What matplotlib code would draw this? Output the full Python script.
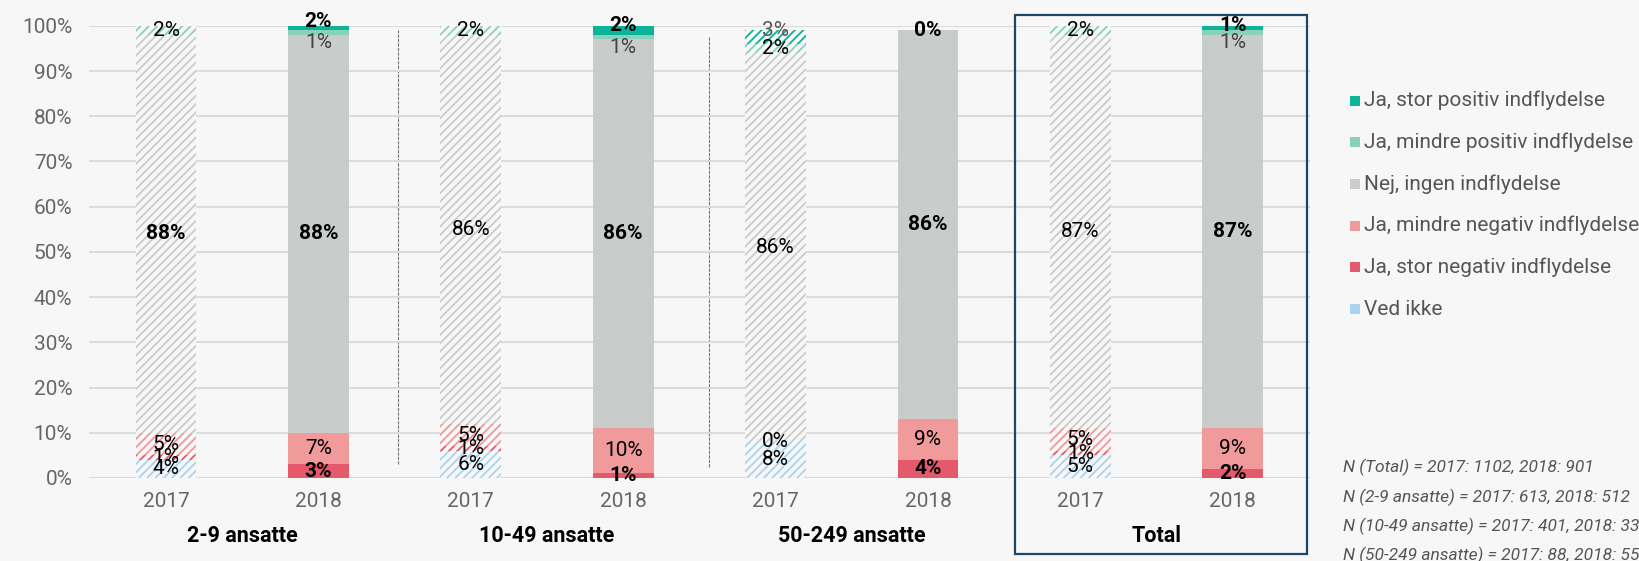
import numpy as np
import matplotlib.pyplot as plt
from matplotlib.patches import Rectangle
from matplotlib.transforms import blended_transform_factory

plt.rcParams['font.family'] = ['Roboto', 'DejaVu Sans']
plt.rcParams['hatch.linewidth'] = 1.3

# Data (bars: 2017/2018 for each group), nan = no segment / no label
groups = ["2-9 ansatte", "10-49 ansatte", "50-249 ansatte", "Total"]
years = ["2017", "2018"] * 4
series = ["Ved ikke", "Ja, stor negativ indflydelse", "Ja, mindre negativ indflydelse",
          "Nej, ingen indflydelse", "Ja, mindre positiv indflydelse", "Ja, stor positiv indflydelse"]
ved_ikke = [4, np.nan, 6, np.nan, 8, np.nan, 5, np.nan]
stor_neg = [1, 3, 1, 1, np.nan, 4, 1, 2]
mindre_neg = [5, 7, 5, 10, 0, 9, 5, 9]
nej = [88, 88, 86, 86, 86, 86, 87, 87]
mindre_pos = [2, 1, 2, 1, 2, np.nan, 2, 1]
stor_pos = [np.nan, 2, np.nan, 2, 3, 0, np.nan, 1]
n_notes = ["N (Total) = 2017: 1102, 2018: 901",
           "N (2-9 ansatte) = 2017: 613, 2018: 512",
           "N (10-49 ansatte) = 2017: 401, 2018: 33",
           "N (50-249 ansatte) = 2017: 88, 2018: 55"]

colors = ["#a9d3ee", "#e5596d", "#f09a9c", "#c8ccca", "#88d1bd", "#0ab39a"]
bg = "#f7f7f7"

fig = plt.figure(figsize=(16.4, 5.61), dpi=100, facecolor=bg)
ax = fig.add_axes([0.0543, 0.148, 0.7445, 0.806], facecolor=bg)

x = np.arange(len(years))
width = 0.40
bottom = np.zeros(len(years))
data = [ved_ikke, stor_neg, mindre_neg, nej, mindre_pos, stor_pos]
for k, vals in enumerate(data):
    vals = np.array(vals, dtype=float)
    h = np.nan_to_num(vals)
    for i in x:
        if i % 2 == 0:
            ax.bar(i, h[i], width, bottom=bottom[i], facecolor=bg, edgecolor=colors[k],
                   hatch="////", linewidth=0, zorder=2)
        else:
            ax.bar(i, h[i], width, bottom=bottom[i], color=colors[k], linewidth=0, zorder=2)
        if np.isnan(vals[i]):
            continue
        yc, va = bottom[i] + h[i] / 2, "center"
        if i % 2 == 0:
            col, fw = ("#555555" if k == 5 else "black"), "normal"
            if k == 3 and i == 0:
                fw = "bold"
            if k == 5:
                yc = bottom[i] + h[i]
        else:
            col = "#444444" if k == 4 else "black"
            fw = "normal" if k in (2, 4) else "bold"
            if k == 5:
                yc = bottom[i] + h[i]
            elif k == 4:
                yc, va = bottom[i] + 0.3, "top"
        ax.text(i, yc, f"{vals[i]:.0f}%", ha="center", va=va, fontsize=15,
                color=col, fontweight=fw, zorder=3)
    bottom += h

ax.set_xlim(-0.505, 7.507)
ax.set_ylim(0, 100)
ax.set_yticks(np.arange(0, 101, 10))
ax.set_yticklabels([f"{v}%" for v in range(0, 101, 10)])
ax.set_xticks(x)
ax.set_xticklabels(years)
ax.tick_params(length=0, labelsize=15, labelcolor="#666666")
ax.tick_params(axis="x", pad=10)
ax.tick_params(axis="y", pad=12)
ax.grid(axis="y", color="#dcdcdc", linewidth=1.5, zorder=0)
for s in ax.spines.values():
    s.set_visible(False)

# group dividers
ax.vlines([1.52], 3, 99, color="#777777", linewidth=0.8, linestyle=(0, (3, 1)), zorder=1)
ax.vlines([3.56], 2.4, 97.6, color="#777777", linewidth=0.8, linestyle=(0, (3, 1)), zorder=1)

# group labels
trans = blended_transform_factory(ax.transData, fig.transFigure)
for g, name in enumerate(groups):
    ax.text(2 * g + 0.5, 0.045, name, transform=trans, ha="center", va="center",
            fontsize=15.5, fontweight="bold", color="black")

# box around Total
fig.add_artist(Rectangle((0.619, 0.0125), 0.178, 0.96, transform=fig.transFigure,
                         fill=False, edgecolor="#1d4766", linewidth=1.6))

# legend
leg_y = [100.7, 142.3, 184.3, 225.7, 267.3, 309.3]
for j, k in enumerate(range(5, -1, -1)):
    yf = 1 - leg_y[j] / 561
    fig.add_artist(Rectangle((1350 / 1640, yf - 5 / 561), 10 / 1640, 10 / 561,
                             transform=fig.transFigure, color=colors[k], linewidth=0))
    fig.text(1364 / 1640, yf, series[k], ha="left", va="center", fontsize=15, color="#555555")

note_y = [467.7, 497.3, 526.7, 555]
for t, yy in zip(n_notes, note_y):
    fig.text(1343 / 1640, 1 - yy / 561, t, ha="left", va="center", fontsize=12.5,
             fontstyle="italic", color="#555555")

fig.savefig("out.png", dpi=100, facecolor=bg)
